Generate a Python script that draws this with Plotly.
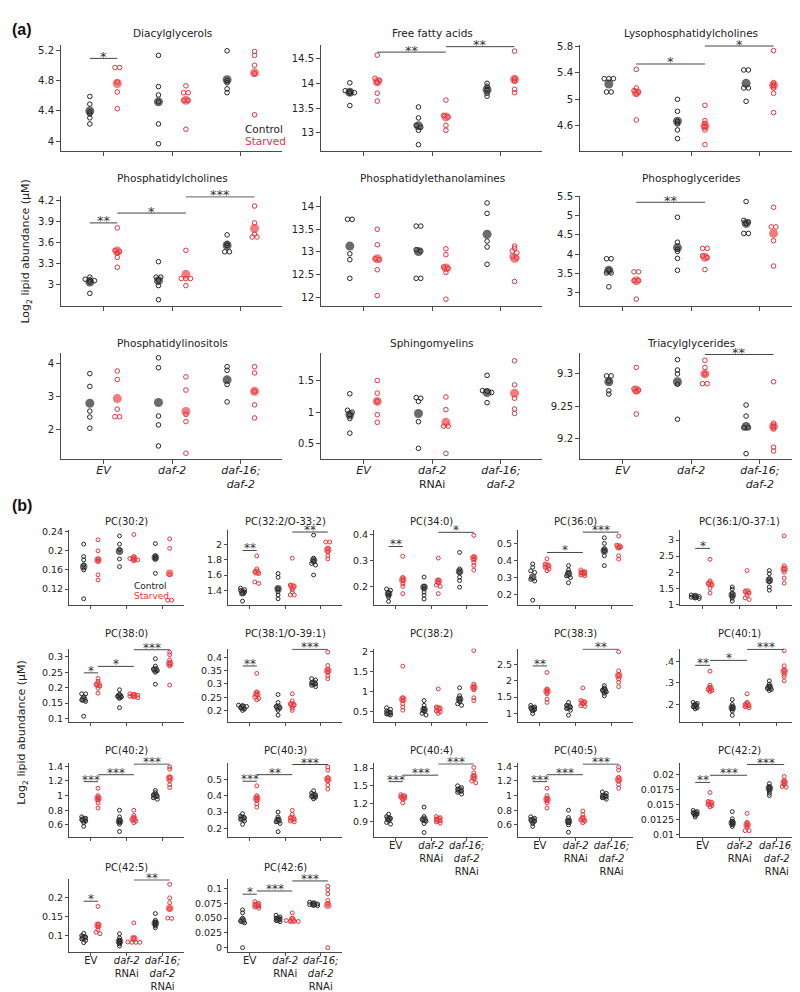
import plotly.graph_objects as go

# ---------------- DATA ----------------
GROUP_LABELS_A = ["<i>EV</i>", "<i>daf-2</i>", "<i>daf-16;</i><br><i>daf-2</i>"]
GROUP_LABELS_A_RNAI = ["<i>EV</i>", "<i>daf-2</i><br>RNAi", "<i>daf-16;</i><br><i>daf-2</i>"]
GROUP_LABELS_B = ["EV", "<i>daf-2</i><br>RNAi", "<i>daf-16;</i><br><i>daf-2</i><br>RNAi"]

# Panel (a)
DAG_TICKS = ["4", "4.4", "4.8", "5.2"]
DAG_C = [[4.59, 4.49, 4.39, 4.36, 4.31, 4.23], [5.13, 4.72, 4.61, 4.52, 4.23, 3.97], [5.19, 4.80, 4.77, 4.69, 4.64]]
DAG_C_MEAN = [4.40, 4.52, 4.81]
DAG_S = [[4.97, 4.97, 4.78, 4.65, 4.43], [4.73, 4.64, 4.64, 4.54, 4.54, 4.16], [5.18, 5.13, 5.00, 4.89, 4.35]]
DAG_S_MEAN = [4.76, 4.54, 4.90]
DAG_SIG = [(0, "C", 0, "S", 5.09, "*")]

FFA_TICKS = ["13", "13.5", "14", "14.5"]
FFA_C = [[14.01, 13.85, 13.83, 13.81, 13.80, 13.55], [13.52, 13.30, 13.15, 13.11, 13.05, 12.76], [14.00, 13.94, 13.87, 13.80, 13.74]]
FFA_C_MEAN = [13.82, 13.14, 13.87]
FFA_S = [[14.57, 14.10, 14.06, 14.02, 13.80, 13.64], [13.66, 13.35, 13.32, 13.15, 13.05], [14.65, 14.09, 14.04, 13.88, 13.81]]
FFA_S_MEAN = [14.03, 13.32, 14.08]
FFA_SIG = [(0, "S", 1, "S", 14.63, "**"), (1, "S", 2, "S", 14.74, "**")]

LPC_TICKS = ["4.6", "5", "5.4", "5.8"]
LPC_C = [[5.31, 5.31, 5.31, 5.11, 5.11], [5.00, 4.82, 4.67, 4.63, 4.54, 4.41], [5.44, 5.44, 5.17, 5.17, 4.97]]
LPC_C_MEAN = [5.23, 4.67, 5.24]
LPC_S = [[5.45, 5.17, 5.13, 5.11, 5.08, 4.69], [4.91, 4.68, 4.64, 4.59, 4.54, 4.32], [5.73, 5.25, 5.21, 5.17, 5.09, 4.80]]
LPC_S_MEAN = [5.10, 4.60, 5.21]
LPC_SIG = [(0, "S", 1, "S", 5.53, "*"), (1, "S", 2, "S", 5.80, "*")]

PCH_TICKS = ["3", "3.3", "3.6", "3.9", "4.2"]
PCH_C = [[3.11, 3.08, 3.07, 3.06, 3.04, 2.88], [3.33, 3.11, 3.11, 3.07, 2.99, 2.79], [3.71, 3.59, 3.56, 3.47, 3.47]]
PCH_C_MEAN = [3.04, 3.06, 3.56]
PCH_S = [[3.81, 3.49, 3.47, 3.45, 3.39, 3.25], [3.49, 3.09, 3.09, 3.09, 2.99], [4.12, 3.88, 3.72, 3.68, 3.68]]
PCH_S_MEAN = [3.48, 3.15, 3.80]
PCH_SIG = [(0, "C", 0, "S", 3.88, "**"), (0, "S", 1, "S", 4.02, "*"), (1, "S", 2, "S", 4.25, "***")]

PE_TICKS = ["12", "12.5", "13", "13.5", "14"]
PE_C = [[13.72, 13.72, 12.96, 12.83, 12.42], [13.57, 13.57, 13.05, 13.02, 12.42, 12.42], [14.08, 13.85, 13.24, 13.11, 12.73]]
PE_C_MEAN = [13.13, 13.01, 13.39]
PE_S = [[13.50, 13.16, 12.85, 12.83, 12.61, 12.04], [13.07, 12.94, 12.67, 12.64, 12.55, 11.96], [13.13, 13.08, 13.02, 12.98, 12.91, 12.87, 12.35]]
PE_S_MEAN = [12.85, 12.65, 12.86]
PE_SIG = []

PG_TICKS = ["3", "3.5", "4", "4.5", "5", "5.5"]
PG_C = [[3.88, 3.88, 3.58, 3.51, 3.51, 3.15], [4.96, 4.31, 4.13, 4.07, 3.89, 3.58], [5.37, 4.88, 4.84, 4.80, 4.54, 4.54]]
PG_C_MEAN = [3.58, 4.17, 4.80]
PG_S = [[3.54, 3.54, 3.31, 3.31, 2.83], [4.15, 4.15, 3.96, 3.91, 3.60], [5.22, 4.71, 4.71, 4.35, 3.69]]
PG_S_MEAN = [3.31, 3.92, 4.54]
PG_SIG = [(0, "S", 1, "S", 5.35, "**")]

PI_TICKS = ["2", "3", "4"]
PI_C = [[3.69, 3.30, 2.55, 2.37, 2.03], [4.17, 3.87, 2.40, 2.13, 1.49], [3.90, 3.79, 3.36, 2.83]]
PI_C_MEAN = [2.79, 2.81, 3.50]
PI_S = [[3.77, 3.51, 2.61, 2.38, 2.38], [3.59, 3.19, 2.45, 2.23, 1.27], [3.90, 3.71, 3.15, 2.74, 2.34]]
PI_S_MEAN = [2.93, 2.54, 3.15]
PI_SIG = []

SM_TICKS = ["0.5", "1", "1.5"]
SM_C = [[1.29, 1.03, 1.00, 0.96, 0.90, 0.67], [1.23, 1.22, 1.17, 0.85, 0.43], [1.58, 1.34, 1.33, 1.31, 1.15]]
SM_C_MEAN = [0.96, 0.98, 1.31]
SM_S = [[1.50, 1.30, 1.17, 0.96, 0.84], [1.24, 1.04, 0.78, 0.78, 0.35], [1.81, 1.43, 1.22, 1.05, 0.98]]
SM_S_MEAN = [1.17, 0.84, 1.30]
SM_SIG = []

TAG_TICKS = ["9.2", "9.25", "9.3"]
TAG_C = [[9.297, 9.297, 9.289, 9.274, 9.269], [9.322, 9.306, 9.300, 9.284, 9.230], [9.252, 9.235, 9.217, 9.217, 9.177]]
TAG_C_MEAN = [9.288, 9.288, 9.219]
TAG_S = [[9.310, 9.277, 9.275, 9.273, 9.238], [9.321, 9.310, 9.300, 9.285, 9.285], [9.288, 9.224, 9.219, 9.215, 9.187, 9.181]]
TAG_S_MEAN = [9.275, 9.300, 9.219]
TAG_SIG = [(1, "S", 2, "S", 9.330, "**")]

# Panel (b)
PC30_2_TICKS = ["0.12", "0.16", "0.2", "0.24"]
PC30_2_C = [[0.214, 0.188, 0.181, 0.171, 0.160, 0.100], [0.231, 0.214, 0.203, 0.183, 0.167], [0.215, 0.190, 0.186, 0.182, 0.153]]
PC30_2_C_MEAN = [0.167, 0.199, 0.186]
PC30_2_S = [[0.223, 0.200, 0.183, 0.178, 0.150, 0.139], [0.234, 0.188, 0.184, 0.183, 0.181, 0.179], [0.225, 0.205, 0.150, 0.097, 0.097]]
PC30_2_S_MEAN = [0.181, 0.184, 0.153]
PC30_2_SIG = []

PC32_2_TICKS = ["1.4", "1.6", "1.8", "2"]
PC32_2_C = [[1.43, 1.41, 1.40, 1.38, 1.36, 1.26], [1.62, 1.57, 1.42, 1.38, 1.34, 1.29], [2.12, 1.82, 1.78, 1.75, 1.73, 1.60]]
PC32_2_C_MEAN = [1.37, 1.42, 1.79]
PC32_2_S = [[1.85, 1.68, 1.64, 1.62, 1.51, 1.49], [1.82, 1.47, 1.45, 1.41, 1.38, 1.34, 1.34], [2.03, 2.03, 1.95, 1.90, 1.85, 1.81]]
PC32_2_S_MEAN = [1.64, 1.45, 1.93]
PC32_2_SIG = [(0, "C", 0, "S", 1.92, "**"), (1, "S", 2, "S", 2.16, "**")]

PC34_0_TICKS = ["0.2", "0.3", "0.4"]
PC34_0_C = [[0.19, 0.185, 0.175, 0.165, 0.158, 0.142], [0.236, 0.20, 0.19, 0.178, 0.166, 0.151], [0.332, 0.268, 0.255, 0.236, 0.223, 0.197]]
PC34_0_C_MEAN = [0.172, 0.197, 0.258]
PC34_0_S = [[0.317, 0.235, 0.225, 0.21, 0.20, 0.172], [0.31, 0.225, 0.215, 0.205, 0.20, 0.172], [0.398, 0.315, 0.305, 0.293, 0.281, 0.263]]
PC34_0_S_MEAN = [0.226, 0.22, 0.31]
PC34_0_SIG = [(0, "C", 0, "S", 0.355, "**"), (1, "S", 2, "S", 0.41, "*")]

PC36_0_TICKS = ["0.2", "0.3", "0.4", "0.5"]
PC36_0_C = [[0.38, 0.36, 0.34, 0.33, 0.29, 0.28, 0.168], [0.37, 0.345, 0.33, 0.31, 0.30, 0.27], [0.533, 0.50, 0.47, 0.457, 0.428, 0.37]]
PC36_0_C_MEAN = [0.302, 0.321, 0.457]
PC36_0_S = [[0.41, 0.38, 0.37, 0.36, 0.35, 0.34], [0.345, 0.335, 0.33, 0.325, 0.315, 0.31], [0.543, 0.49, 0.48, 0.475, 0.428, 0.408]]
PC36_0_S_MEAN = [0.37, 0.327, 0.48]
PC36_0_SIG = [(0, "S", 1, "S", 0.447, "*"), (1, "S", 2, "S", 0.566, "***")]

PC36_1_TICKS = ["1", "1.5", "2", "2.5", "3"]
PC36_1_C = [[1.29, 1.26, 1.24, 1.22, 1.20, 1.18], [1.54, 1.47, 1.35, 1.25, 1.19, 1.10], [2.05, 1.95, 1.80, 1.70, 1.54, 1.44]]
PC36_1_C_MEAN = [1.24, 1.29, 1.75]
PC36_1_S = [[2.40, 1.73, 1.65, 1.60, 1.50, 1.35], [2.05, 1.40, 1.35, 1.28, 1.20, 1.15], [3.13, 2.20, 2.10, 2.00, 1.82, 1.66]]
PC36_1_S_MEAN = [1.64, 1.39, 2.10]
PC36_1_SIG = [(0, "C", 0, "S", 2.74, "*")]

PC38_0_TICKS = ["0.1", "0.15", "0.2", "0.25", "0.3"]
PC38_0_C = [[0.18, 0.18, 0.17, 0.16, 0.155, 0.107], [0.193, 0.178, 0.172, 0.17, 0.165, 0.135], [0.294, 0.27, 0.26, 0.255, 0.25, 0.211]]
PC38_0_C_MEAN = [0.162, 0.172, 0.258]
PC38_0_S = [[0.23, 0.22, 0.21, 0.205, 0.198, 0.182], [0.18, 0.178, 0.175, 0.172, 0.17, 0.167], [0.315, 0.307, 0.29, 0.278, 0.27, 0.208]]
PC38_0_S_MEAN = [0.21, 0.174, 0.278]
PC38_0_SIG = [(0, "C", 0, "S", 0.248, "*"), (0, "S", 1, "S", 0.269, "*"), (1, "S", 2, "S", 0.323, "***")]

PC38_1_TICKS = ["0.2", "0.25", "0.3", "0.35", "0.4"]
PC38_1_C = [[0.22, 0.218, 0.215, 0.21, 0.205, 0.20], [0.26, 0.23, 0.215, 0.21, 0.20, 0.182], [0.32, 0.315, 0.305, 0.30, 0.295, 0.29]]
PC38_1_C_MEAN = [0.212, 0.212, 0.303]
PC38_1_S = [[0.34, 0.27, 0.26, 0.25, 0.245, 0.24], [0.263, 0.236, 0.225, 0.22, 0.208, 0.20], [0.42, 0.37, 0.355, 0.345, 0.33, 0.32]]
PC38_1_S_MEAN = [0.262, 0.221, 0.35]
PC38_1_SIG = [(0, "C", 0, "S", 0.368, "**"), (1, "S", 2, "S", 0.431, "***")]

PC38_2_TICKS = ["0.5", "1", "1.5", "2"]
PC38_2_C = [[0.60, 0.56, 0.52, 0.48, 0.45, 0.42], [0.78, 0.66, 0.58, 0.52, 0.46, 0.42], [1.10, 0.90, 0.82, 0.75, 0.70, 0.66]]
PC38_2_C_MEAN = [0.47, 0.55, 0.81]
PC38_2_S = [[1.64, 0.85, 0.78, 0.70, 0.62, 0.54], [1.07, 0.62, 0.58, 0.52, 0.50, 0.46], [2.03, 1.19, 1.11, 1.05, 0.85, 0.78]]
PC38_2_S_MEAN = [0.81, 0.58, 1.11]
PC38_2_SIG = []

PC38_3_TICKS = ["1", "1.5", "2", "2.5"]
PC38_3_C = [[1.25, 1.20, 1.17, 1.12, 1.08, 1.00], [1.34, 1.25, 1.20, 1.15, 1.10, 0.95], [1.85, 1.78, 1.71, 1.66, 1.62, 1.54]]
PC38_3_C_MEAN = [1.15, 1.20, 1.70]
PC38_3_S = [[2.25, 1.75, 1.69, 1.60, 1.44, 1.34], [1.78, 1.40, 1.35, 1.30, 1.24, 1.22], [2.88, 2.30, 2.16, 2.05, 1.95, 1.82]]
PC38_3_S_MEAN = [1.68, 1.33, 2.16]
PC38_3_SIG = [(0, "C", 0, "S", 2.45, "**"), (1, "S", 2, "S", 2.96, "**")]

PC40_1_TICKS = [".2", ".3", ".4"]
PC40_1_C = [[0.21, 0.205, 0.20, 0.19, 0.185, 0.18], [0.223, 0.20, 0.19, 0.18, 0.17, 0.15], [0.31, 0.295, 0.285, 0.275, 0.27, 0.265]]
PC40_1_C_MEAN = [0.195, 0.185, 0.28]
PC40_1_S = [[0.355, 0.29, 0.28, 0.27, 0.265, 0.26], [0.25, 0.21, 0.20, 0.195, 0.19, 0.185], [0.45, 0.38, 0.36, 0.34, 0.33, 0.31]]
PC40_1_S_MEAN = [0.275, 0.199, 0.355]
PC40_1_SIG = [(0, "C", 0, "S", 0.382, "**"), (0, "S", 1, "S", 0.405, "*"), (1, "S", 2, "S", 0.456, "***")]

PC40_2_TICKS = ["0.6", "0.8", "1", "1.2", "1.4"]
PC40_2_C = [[0.71, 0.69, 0.67, 0.65, 0.63, 0.58], [0.80, 0.71, 0.67, 0.64, 0.61, 0.51], [1.07, 1.04, 1.01, 0.99, 0.97, 0.95]]
PC40_2_C_MEAN = [0.67, 0.65, 1.00]
PC40_2_S = [[1.10, 1.00, 0.97, 0.94, 0.90, 0.83], [0.80, 0.73, 0.70, 0.67, 0.65, 0.63], [1.39, 1.36, 1.25, 1.20, 1.15, 1.11]]
PC40_2_S_MEAN = [0.96, 0.68, 1.24]
PC40_2_SIG = [(0, "C", 0, "S", 1.19, "***"), (0, "S", 1, "S", 1.285, "***"), (1, "S", 2, "S", 1.43, "***")]

PC40_3_TICKS = ["0.2", "0.3", "0.4", "0.5"]
PC40_3_C = [[0.29, 0.275, 0.265, 0.255, 0.245, 0.225], [0.30, 0.27, 0.255, 0.24, 0.23, 0.18], [0.43, 0.415, 0.405, 0.395, 0.39, 0.38]]
PC40_3_C_MEAN = [0.262, 0.25, 0.40]
PC40_3_S = [[0.46, 0.40, 0.385, 0.37, 0.35, 0.33], [0.31, 0.285, 0.265, 0.255, 0.245, 0.24], [0.575, 0.555, 0.51, 0.49, 0.465, 0.44]]
PC40_3_S_MEAN = [0.383, 0.262, 0.50]
PC40_3_SIG = [(0, "C", 0, "S", 0.488, "***"), (0, "S", 1, "S", 0.528, "**"), (1, "S", 2, "S", 0.59, "***")]

PC40_4_TICKS = ["0.9", "1.2", "1.5", "1.8"]
PC40_4_C = [[1.02, 0.98, 0.95, 0.92, 0.88, 0.85], [1.14, 0.98, 0.93, 0.90, 0.86, 0.71], [1.50, 1.47, 1.44, 1.41, 1.39, 1.36]]
PC40_4_C_MEAN = [0.94, 0.93, 1.43]
PC40_4_S = [[1.35, 1.33, 1.31, 1.29, 1.27, 1.21], [0.98, 0.96, 0.93, 0.91, 0.89, 0.87], [1.81, 1.72, 1.67, 1.62, 1.58, 1.55]]
PC40_4_S_MEAN = [1.31, 0.93, 1.65]
PC40_4_SIG = [(0, "C", 0, "S", 1.57, "***"), (0, "S", 1, "S", 1.68, "***"), (1, "S", 2, "S", 1.87, "***")]

PC40_5_TICKS = ["0.6", "0.8", "1", "1.2", "1.4"]
PC40_5_C = [[0.71, 0.69, 0.67, 0.65, 0.62, 0.58], [0.80, 0.70, 0.66, 0.63, 0.60, 0.50], [1.05, 1.03, 1.00, 0.99, 0.97, 0.95]]
PC40_5_C_MEAN = [0.66, 0.65, 0.99]
PC40_5_S = [[1.10, 1.00, 0.96, 0.93, 0.90, 0.83], [0.79, 0.74, 0.70, 0.67, 0.65, 0.63], [1.39, 1.35, 1.25, 1.20, 1.15, 1.10]]
PC40_5_S_MEAN = [0.95, 0.68, 1.22]
PC40_5_SIG = [(0, "C", 0, "S", 1.19, "***"), (0, "S", 1, "S", 1.285, "***"), (1, "S", 2, "S", 1.43, "***")]

PC42_2_TICKS = ["0.01", "0.0125", "0.015", "0.0175", "0.02"]
PC42_2_C = [[0.0140, 0.0138, 0.0136, 0.0134, 0.0132, 0.0129], [0.0138, 0.0126, 0.0122, 0.0119, 0.0116, 0.0113], [0.0185, 0.0180, 0.0177, 0.0173, 0.0169, 0.0165]]
PC42_2_C_MEAN = [0.0135, 0.0119, 0.0177]
PC42_2_S = [[0.0170, 0.0155, 0.0153, 0.0150, 0.0148, 0.0146], [0.0135, 0.0120, 0.0116, 0.0112, 0.0106, 0.0106], [0.0197, 0.0190, 0.0187, 0.0183, 0.0180, 0.0179]]
PC42_2_S_MEAN = [0.0152, 0.0116, 0.0187]
PC42_2_SIG = [(0, "C", 0, "S", 0.0187, "**"), (0, "S", 1, "S", 0.0199, "***"), (1, "S", 2, "S", 0.0217, "***")]

PC42_5_TICKS = ["0.1", "0.15", "0.2"]
PC42_5_C = [[0.105, 0.099, 0.095, 0.090, 0.086, 0.080], [0.104, 0.093, 0.087, 0.082, 0.077, 0.071], [0.158, 0.140, 0.135, 0.130, 0.125, 0.120]]
PC42_5_C_MEAN = [0.094, 0.083, 0.132]
PC42_5_S = [[0.177, 0.130, 0.122, 0.115, 0.108, 0.104], [0.133, 0.092, 0.082, 0.081, 0.081, 0.081], [0.236, 0.200, 0.187, 0.170, 0.146, 0.145]]
PC42_5_S_MEAN = [0.127, 0.091, 0.172]
PC42_5_SIG = [(0, "C", 0, "S", 0.191, "*"), (1, "S", 2, "S", 0.248, "**")]

PC42_6_TICKS = ["0", "0.025", "0.050", "0.075", "0.1"]
PC42_6_C = [[0.064, 0.059, 0.050, 0.045, 0.042, 0.0], [0.055, 0.052, 0.050, 0.048, 0.046, 0.044], [0.077, 0.075, 0.074, 0.073, 0.072, 0.071]]
PC42_6_C_MEAN = [0.046, 0.048, 0.074]
PC42_6_S = [[0.078, 0.075, 0.073, 0.071, 0.069, 0.067], [0.059, 0.050, 0.046, 0.0445, 0.0445, 0.0445], [0.104, 0.098, 0.091, 0.080, 0.075, 0.0]]
PC42_6_S_MEAN = [0.072, 0.047, 0.072]
PC42_6_SIG = [(0, "C", 0, "S", 0.0906, "*"), (0, "S", 1, "S", 0.096, "***"), (1, "S", 2, "S", 0.113, "***")]

# ---------------- LAYOUT SPEC ----------------
W, H = 800, 992
A_COLS = [(53, 274), (313, 534), (572, 793)]
A_ROWS = [(32, 139), (185, 296), (343, 451)]
B_COLS = [(61, 176), (220, 334), (366, 480), (510, 625), (672, 791)]
B_ROWS = [(522, 598), (642, 716), (758, 832), (875, 949)]
A_TITLE_Y = [20, 167, 333]
B_TITLE_Y = [514, 627, 745, 863]

# (title, data tuple, set, col, row, y range, x labels)
PANELS = [
    ("Diacylglycerols", (DAG_TICKS, DAG_C, DAG_C_MEAN, DAG_S, DAG_S_MEAN, DAG_SIG), "a", 0, 0, (3.88, 5.27), None),
    ("Free fatty acids", (FFA_TICKS, FFA_C, FFA_C_MEAN, FFA_S, FFA_S_MEAN, FFA_SIG), "a", 1, 0, (12.64, 14.78), None),
    ("Lysophosphatidylcholines", (LPC_TICKS, LPC_C, LPC_C_MEAN, LPC_S, LPC_S_MEAN, LPC_SIG), "a", 2, 0, (4.23, 5.82), None),
    ("Phosphatidylcholines", (PCH_TICKS, PCH_C, PCH_C_MEAN, PCH_S, PCH_S_MEAN, PCH_SIG), "a", 0, 1, (2.70, 4.26), None),
    ("Phosphatidylethanolamines", (PE_TICKS, PE_C, PE_C_MEAN, PE_S, PE_S_MEAN, PE_SIG), "a", 1, 1, (11.81, 14.23), None),
    ("Phosphoglycerides", (PG_TICKS, PG_C, PG_C_MEAN, PG_S, PG_S_MEAN, PG_SIG), "a", 2, 1, (2.65, 5.51), None),
    ("Phosphatidylinositols", (PI_TICKS, PI_C, PI_C_MEAN, PI_S, PI_S_MEAN, PI_SIG), "a", 0, 2, (1.08, 4.33), GROUP_LABELS_A),
    ("Sphingomyelins", (SM_TICKS, SM_C, SM_C_MEAN, SM_S, SM_S_MEAN, SM_SIG), "a", 1, 2, (0.255, 1.94), GROUP_LABELS_A_RNAI),
    ("Triacylglycerides", (TAG_TICKS, TAG_C, TAG_C_MEAN, TAG_S, TAG_S_MEAN, TAG_SIG), "a", 2, 2, (9.168, 9.333), GROUP_LABELS_A),
    ("PC(30:2)", (PC30_2_TICKS, PC30_2_C, PC30_2_C_MEAN, PC30_2_S, PC30_2_S_MEAN, PC30_2_SIG), "b", 0, 0, (0.087, 0.244), None),
    ("PC(32:2/O-33:2)", (PC32_2_TICKS, PC32_2_C, PC32_2_C_MEAN, PC32_2_S, PC32_2_S_MEAN, PC32_2_SIG), "b", 1, 0, (1.21, 2.19), None),
    ("PC(34:0)", (PC34_0_TICKS, PC34_0_C, PC34_0_C_MEAN, PC34_0_S, PC34_0_S_MEAN, PC34_0_SIG), "b", 2, 0, (0.128, 0.42), None),
    ("PC(36:0)", (PC36_0_TICKS, PC36_0_C, PC36_0_C_MEAN, PC36_0_S, PC36_0_S_MEAN, PC36_0_SIG), "b", 3, 0, (0.14, 0.58), None),
    ("PC(36:1/O-37:1)", (PC36_1_TICKS, PC36_1_C, PC36_1_C_MEAN, PC36_1_S, PC36_1_S_MEAN, PC36_1_SIG), "b", 4, 0, (0.98, 3.32), None),
    ("PC(38:0)", (PC38_0_TICKS, PC38_0_C, PC38_0_C_MEAN, PC38_0_S, PC38_0_S_MEAN, PC38_0_SIG), "b", 0, 1, (0.089, 0.327), None),
    ("PC(38:1/O-39:1)", (PC38_1_TICKS, PC38_1_C, PC38_1_C_MEAN, PC38_1_S, PC38_1_S_MEAN, PC38_1_SIG), "b", 1, 1, (0.157, 0.434), None),
    ("PC(38:2)", (PC38_2_TICKS, PC38_2_C, PC38_2_C_MEAN, PC38_2_S, PC38_2_S_MEAN, PC38_2_SIG), "b", 2, 1, (0.25, 2.08), None),
    ("PC(38:3)", (PC38_3_TICKS, PC38_3_C, PC38_3_C_MEAN, PC38_3_S, PC38_3_S_MEAN, PC38_3_SIG), "b", 3, 1, (0.75, 2.98), None),
    ("PC(40:1)", (PC40_1_TICKS, PC40_1_C, PC40_1_C_MEAN, PC40_1_S, PC40_1_S_MEAN, PC40_1_SIG), "b", 4, 1, (0.12, 0.46), None),
    ("PC(40:2)", (PC40_2_TICKS, PC40_2_C, PC40_2_C_MEAN, PC40_2_S, PC40_2_S_MEAN, PC40_2_SIG), "b", 0, 2, (0.44, 1.44), None),
    ("PC(40:3)", (PC40_3_TICKS, PC40_3_C, PC40_3_C_MEAN, PC40_3_S, PC40_3_S_MEAN, PC40_3_SIG), "b", 1, 2, (0.15, 0.597), None),
    ("PC(40:4)", (PC40_4_TICKS, PC40_4_C, PC40_4_C_MEAN, PC40_4_S, PC40_4_S_MEAN, PC40_4_SIG), "b", 2, 2, (0.64, 1.88), GROUP_LABELS_B),
    ("PC(40:5)", (PC40_5_TICKS, PC40_5_C, PC40_5_C_MEAN, PC40_5_S, PC40_5_S_MEAN, PC40_5_SIG), "b", 3, 2, (0.44, 1.44), GROUP_LABELS_B),
    ("PC(42:2)", (PC42_2_TICKS, PC42_2_C, PC42_2_C_MEAN, PC42_2_S, PC42_2_S_MEAN, PC42_2_SIG), "b", 4, 2, (0.0096, 0.0219), GROUP_LABELS_B),
    ("PC(42:5)", (PC42_5_TICKS, PC42_5_C, PC42_5_C_MEAN, PC42_5_S, PC42_5_S_MEAN, PC42_5_SIG), "b", 0, 3, (0.054, 0.25), GROUP_LABELS_B),
    ("PC(42:6)", (PC42_6_TICKS, PC42_6_C, PC42_6_C_MEAN, PC42_6_S, PC42_6_S_MEAN, PC42_6_SIG), "b", 1, 3, (-0.008, 0.116), GROUP_LABELS_B),
]

CTRL_REP = "#262626"
CTRL_MEAN = "#6b6b6b"
STV_REP = "#e3343c"
STV_MEAN = "#f47c7c"
AXIS_COL = "#4a4a4a"
FONT = "DejaVu Sans"
OFFSET = {"C": -0.2, "S": 0.2}


def swarm(vals, ppu_y, ppu_x, d):
    """Beeswarm-style horizontal offsets (category units) for near-identical values."""
    order = sorted(range(len(vals)), key=lambda k: -vals[k])
    offs = [0.0] * len(vals)
    rows = []
    for k in order:
        if rows and (vals[rows[-1][0]] - vals[k]) * ppu_y < 0.45 * d:
            rows[-1].append(k)
        else:
            rows.append([k])
    for row in rows:
        n = len(row)
        for j, k in enumerate(row):
            offs[k] = (j - (n - 1) / 2) * d / ppu_x
    return offs


fig = go.Figure()
annotations = []

for i, (title, data, pset, col, row, yr, xlabels) in enumerate(PANELS, start=1):
    ticks, c_reps, c_mean, s_reps, s_mean, sigs = data
    cols, rows = (A_COLS, A_ROWS) if pset == "a" else (B_COLS, B_ROWS)
    x0, x1 = cols[col]
    top, bot = rows[row]
    xr = [-0.62, 2.6] if pset == "a" else [-0.61, 2.6]
    ppu_x = (x1 - x0) / (xr[1] - xr[0])
    ppu_y = (bot - top) / (yr[1] - yr[0])
    xs = "x" if i == 1 else f"x{i}"
    ys = "y" if i == 1 else f"y{i}"
    rep_size = 4.6 if pset == "a" else 3.9
    mean_size = 9 if pset == "a" else 7.5
    d = 4.6 if pset == "a" else 4.0

    for cond, means, col_m in (("C", c_mean, CTRL_MEAN), ("S", s_mean, STV_MEAN)):
        fig.add_trace(go.Scatter(
            x=[g + OFFSET[cond] for g in range(3)], y=means, mode="markers",
            marker=dict(size=mean_size, color=col_m, line=dict(width=0)),
            xaxis=xs, yaxis=ys, showlegend=False, hoverinfo="skip"))
    for cond, reps, col_r in (("C", c_reps, CTRL_REP), ("S", s_reps, STV_REP)):
        px, py = [], []
        for g in range(3):
            offs = swarm(reps[g], ppu_y, ppu_x, d)
            for v, o in zip(reps[g], offs):
                px.append(g + OFFSET[cond] + o)
                py.append(v)
        fig.add_trace(go.Scatter(
            x=px, y=py, mode="markers",
            marker=dict(size=rep_size, symbol="circle-open", color=col_r, line=dict(width=1, color=col_r)),
            xaxis=xs, yaxis=ys, showlegend=False, hoverinfo="skip"))

    # significance brackets
    lx, ly = [], []
    for (g1, c1, g2, c2, yv, lab) in sigs:
        xa = g1 + OFFSET[c1]
        xb = g2 + OFFSET[c2]
        lx += [xa, xb, None]
        ly += [yv, yv, None]
        annotations.append(dict(
            x=(xa + xb) / 2, y=yv, xref=xs, yref=ys, text=lab, showarrow=False,
            yanchor="middle", yshift=2,
            font=dict(family=FONT, size=13 if pset == "a" else 12, color="#333")))
    if lx:
        fig.add_trace(go.Scatter(x=lx, y=ly, mode="lines", line=dict(color="#444", width=1),
                                 xaxis=xs, yaxis=ys, showlegend=False, hoverinfo="skip"))

    xkey = "xaxis" if i == 1 else f"xaxis{i}"
    ykey = "yaxis" if i == 1 else f"yaxis{i}"
    tick_font = dict(family=FONT, size=10 if pset == "a" else 9.5, color="#222")
    fig.update_layout(**{
        xkey: dict(domain=[x0 / W, x1 / W], range=xr, anchor=ys, showgrid=False, zeroline=False,
                   showline=True, linecolor=AXIS_COL, linewidth=1,
                   ticks="outside", ticklen=4 if pset == "a" else 3, tickcolor=AXIS_COL,
                   tickvals=[0, 1, 2], ticktext=xlabels if xlabels else ["", "", ""],
                   showticklabels=bool(xlabels), ticklabelstandoff=-4,
                   tickfont=dict(family=FONT, size=11 if pset == "a" else 10, color="#222"),
                   fixedrange=True),
        ykey: dict(domain=[1 - bot / H, 1 - top / H], range=list(yr), anchor=xs, showgrid=False,
                   zeroline=False, showline=True, linecolor=AXIS_COL, linewidth=1,
                   ticks="outside", ticklen=4 if pset == "a" else 3, tickcolor=AXIS_COL,
                   tickvals=[float(t) for t in ticks], ticktext=ticks, tickfont=tick_font,
                   fixedrange=True),
    })

    ty = (A_TITLE_Y if pset == "a" else B_TITLE_Y)[row]
    annotations.append(dict(x=1, xref=xs, y=1 - ty / H, yref="paper", text=title, showarrow=False,
                            xanchor="center", yanchor="middle",
                            font=dict(family=FONT, size=10.5 if pset == "a" else 10, color="#222")))

# legends
annotations += [
    dict(x=235 / W, y=1 - 117 / H, xref="paper", yref="paper", text="Control", showarrow=False,
         xanchor="left", yanchor="middle", font=dict(family=FONT, size=10.5, color="#222")),
    dict(x=235 / W, y=1 - 129 / H, xref="paper", yref="paper", text="Starved", showarrow=False,
         xanchor="left", yanchor="middle", font=dict(family=FONT, size=10.5, color="#e3343c")),
    dict(x=124 / W, y=1 - 579 / H, xref="paper", yref="paper", text="Control", showarrow=False,
         xanchor="left", yanchor="middle", font=dict(family=FONT, size=9, color="#222")),
    dict(x=124 / W, y=1 - 589 / H, xref="paper", yref="paper", text="Starved", showarrow=False,
         xanchor="left", yanchor="middle", font=dict(family=FONT, size=9, color="#e3343c")),
    # panel labels
    dict(x=2 / W, y=1 - 17 / H, xref="paper", yref="paper", text="<b>(a)</b>", showarrow=False,
         xanchor="left", yanchor="middle", font=dict(family="Liberation Sans", size=16, color="#111")),
    dict(x=2 / W, y=1 - 498 / H, xref="paper", yref="paper", text="<b>(b)</b>", showarrow=False,
         xanchor="left", yanchor="middle", font=dict(family="Liberation Sans", size=16, color="#111")),
    # y-axis titles
    dict(x=18 / W, y=1 - 241 / H, xref="paper", yref="paper", text="Log<sub>2</sub> lipid abundance (μM)",
         showarrow=False, textangle=-90, xanchor="center", yanchor="middle",
         font=dict(family=FONT, size=11, color="#222")),
    dict(x=14 / W, y=1 - 727 / H, xref="paper", yref="paper", text="Log<sub>2</sub> lipid abundance (μM)",
         showarrow=False, textangle=-90, xanchor="center", yanchor="middle",
         font=dict(family=FONT, size=11, color="#222")),
]

fig.update_layout(
    width=W, height=H, margin=dict(l=0, r=0, t=0, b=0),
    paper_bgcolor="white", plot_bgcolor="white",
    annotations=annotations, showlegend=False,
    font=dict(family=FONT, size=10, color="#222"),
)

fig.write_html("out.html")
